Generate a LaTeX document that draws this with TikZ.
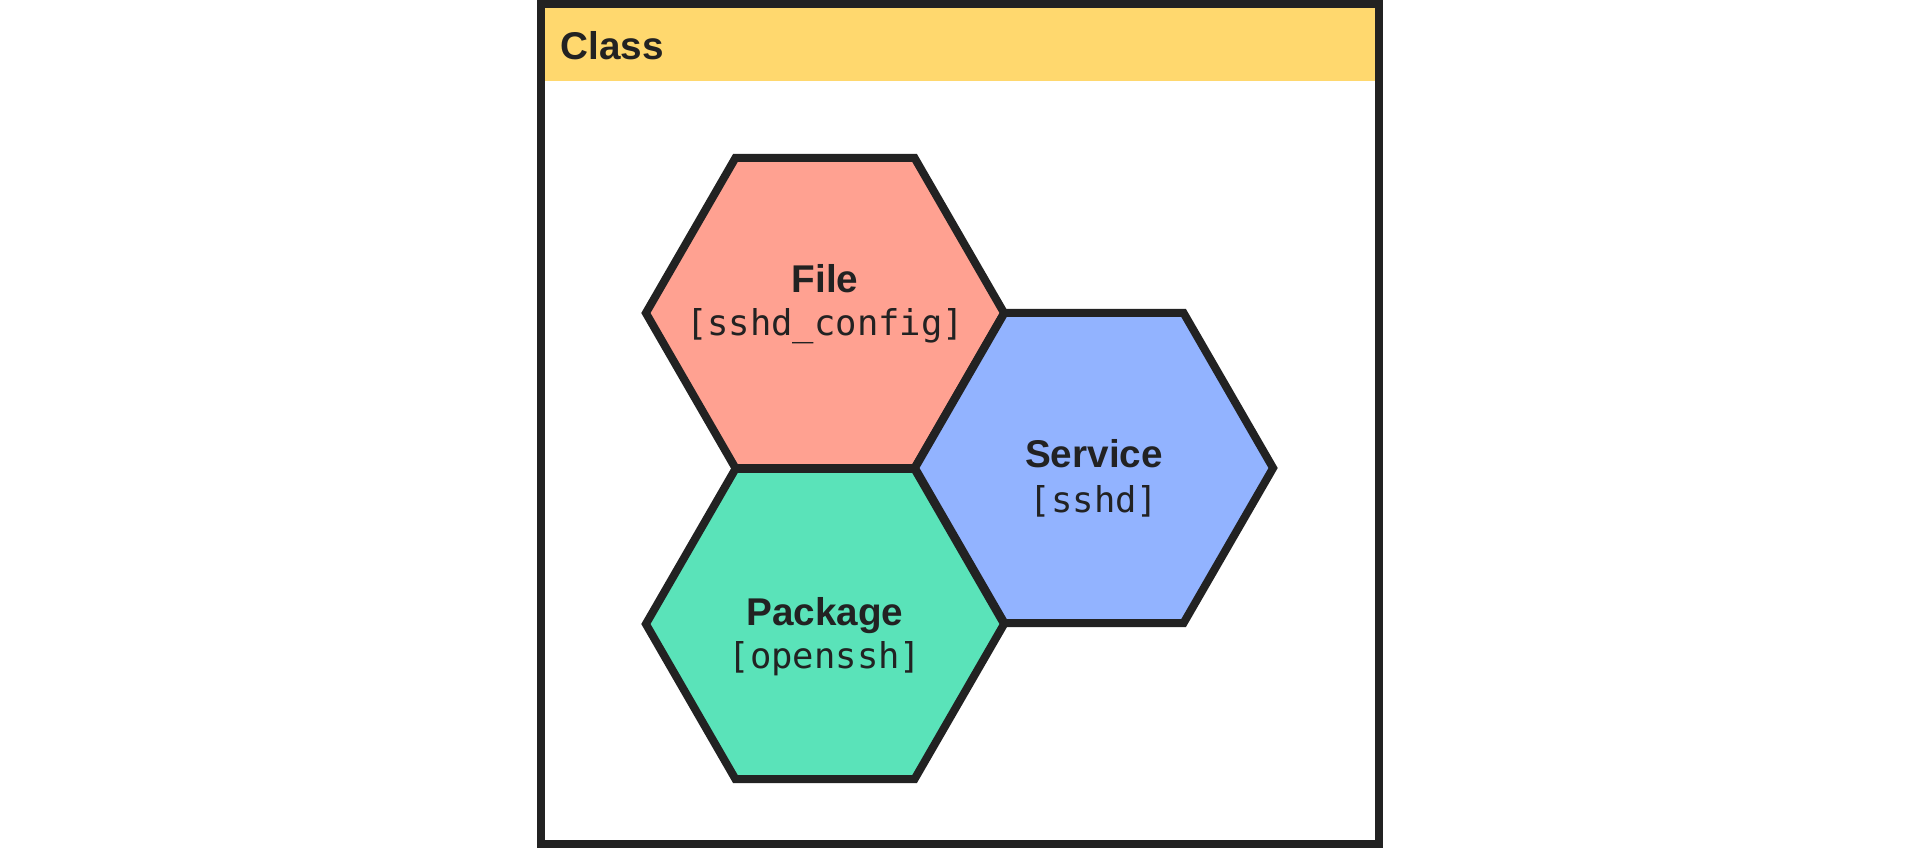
\documentclass[tikz,border=0pt]{standalone}
\usepackage{fontspec}
\setmainfont{Liberation Sans}
\setmonofont{DejaVu Sans Mono}
\usetikzlibrary{shapes.geometric}
\definecolor{ink}{HTML}{222222}
\definecolor{headyellow}{HTML}{FFD86E}
\definecolor{filered}{HTML}{FFA191}
\definecolor{serviceblue}{HTML}{92B3FF}
\definecolor{packagegreen}{HTML}{5AE3B9}
\begin{document}
\begin{tikzpicture}[x=0.01cm, y=-0.01cm,
        hex/.style={regular polygon, regular polygon sides=6, minimum size=3.58cm,
            inner sep=0pt, outer sep=0pt, draw=ink, line width=0.08cm},
        title/.style={font=\fontsize{11}{13}\selectfont\bfseries, text=ink, anchor=base, inner sep=0pt},
        res/.style={font=\fontsize{10.1}{12}\selectfont\ttfamily, text=ink, anchor=base, inner sep=0pt}]
        \useasboundingbox (0,0) rectangle (1920,848);
        % class frame
        \fill[headyellow] (545,8) rectangle (1375,81);
        \draw[ink, line width=0.08cm] (541,4) rectangle (1379,844);
        \node[title, anchor=base west] (class) at (560,59) {Class};
        % resources
        \node[hex, fill=filered] (file) at (825,313) {};
        \node[hex, fill=serviceblue] (service) at (1094,468) {};
        \node[hex, fill=packagegreen] (package) at (825,624) {};
        \node[title] (filetitle) at (825,292) {File};
        \node[res] (fileres) at (825,335) {[sshd\_config]};
        \node[title] (servicetitle) at (1094,467) {Service};
        \node[res] (serviceres) at (1094,512) {[sshd]};
        \node[title] (packagetitle) at (825,625) {Package};
        \node[res] (packageres) at (825,668) {[openssh]};
    \end{tikzpicture}
\end{document}
